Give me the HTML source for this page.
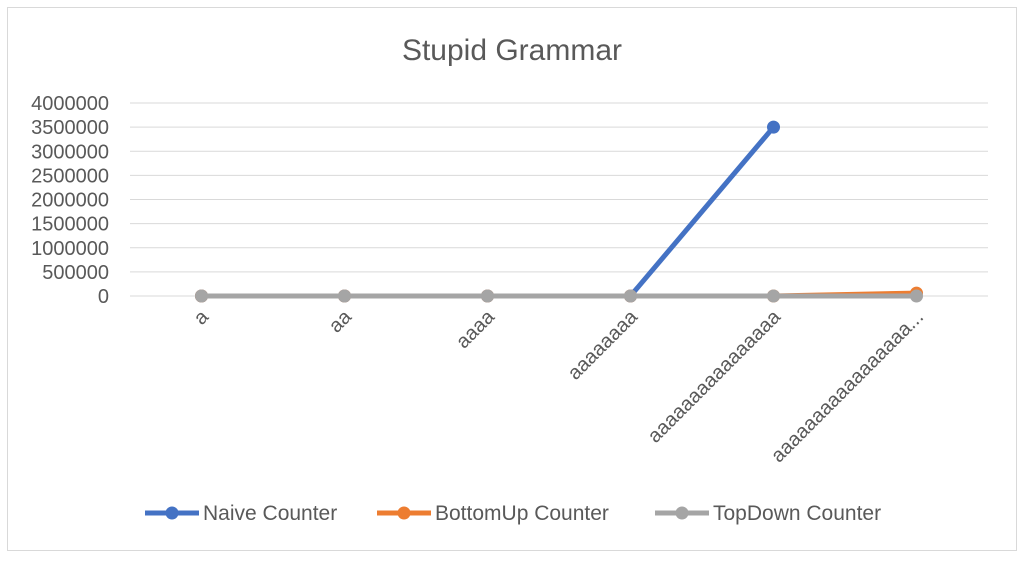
<!DOCTYPE html>
<html><head><meta charset="utf-8"><style>
body{margin:0;background:#fff;}
svg text{font-family:"Liberation Sans",sans-serif;fill:#595959;}
</style></head><body>
<svg id="chart" width="1024" height="559">
<rect x="7.5" y="7.5" width="1009" height="543" fill="#fff" stroke="#d9d9d9"/>
<text x="512" y="60" text-anchor="middle" font-size="30">Stupid Grammar</text>
<g id="grid"></g><g id="xl"></g><g id="series"></g><g id="legend"></g>
</svg>
<script>
const categories=["a","aa","aaaa","aaaaaaaa","aaaaaaaaaaaaaaaa","aaaaaaaaaaaaaaaaa..."];
const naive=[0,0,0,0,3500000,null];
const bottomUp=[0,0,0,0,0,60000];
const topDown=[0,0,0,0,0,0];
const yTicks=[0,500000,1000000,1500000,2000000,2500000,3000000,3500000,4000000];
const NS="http://www.w3.org/2000/svg";
const x0=130,x1=988,y0=296,y1=103,yMax=4000000;
const X=i=>x0+(i+0.5)*(x1-x0)/categories.length;
const Y=v=>y0-(v/yMax)*(y0-y1);
function mk(t,a,p){const e=document.createElementNS(NS,t);for(const k in a)e.setAttribute(k,a[k]);p.appendChild(e);return e;}
const grid=document.getElementById('grid');
yTicks.forEach(v=>{
 const l=mk('line',{x1:x0,x2:x1,y1:Y(v),y2:Y(v),stroke:'#d9d9d9','stroke-width':1},grid);
 
 
 const t=mk('text',{x:109,y:Y(v)+7,'text-anchor':'end','font-size':20},grid);
 t.textContent=v;
 
 
});
const xl=document.getElementById('xl');
categories.forEach((c,i)=>{
 const ax=X(i)+8,ay=318;
 const t=mk('text',{x:ax,y:ay,'text-anchor':'end','font-size':20,transform:`rotate(-45 ${ax} ${ay})`},xl);
 t.textContent=c;
 
 
});
const sg=document.getElementById('series');
const series=[[naive,'#4472c4','naive-counter'],[bottomUp,'#ed7d31','bottomup-counter'],[topDown,'#a5a5a5','topdown-counter']];
series.forEach(([d,col,name])=>{
 const g=mk('g',{},sg);
 
 
 let pts=[];d.forEach((v,i)=>{if(v!==null)pts.push(X(i)+','+Y(v));});
 mk('polyline',{points:pts.join(' '),fill:'none',stroke:col,'stroke-width':5,'stroke-linejoin':'round'},g);
 d.forEach((v,i)=>{if(v===null)return;
  const c=mk('circle',{cx:X(i),cy:Y(v),r:6.5,fill:col},g);
  
  
 });
});
const lg=document.getElementById('legend');
const leg=[['Naive Counter','#4472c4',145],['BottomUp Counter','#ed7d31',377],['TopDown Counter','#a5a5a5',655]];
leg.forEach(([n,col,x])=>{
 const g=mk('g',{},lg);
 
 
 mk('line',{x1:x,x2:x+54,y1:513,y2:513,stroke:col,'stroke-width':5},g);
 mk('circle',{cx:x+27,cy:513,r:6.5,fill:col},g);
 const t=mk('text',{x:x+58,y:520,'font-size':21},g);t.textContent=n;
});
</script>
</body></html>
